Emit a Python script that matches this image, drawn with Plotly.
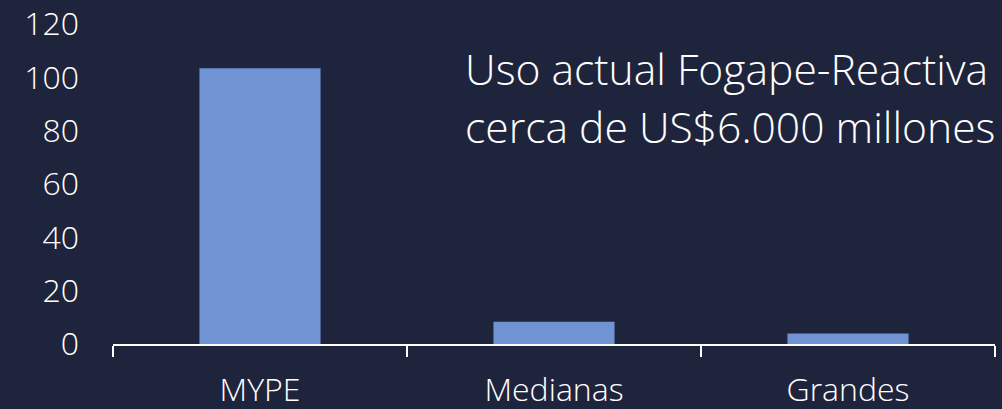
import plotly.graph_objects as go

categories = ["MYPE", "Medianas", "Grandes"]
values = [103.4, 8.3, 3.9]
y_ticks = [0, 20, 40, 60, 80, 100, 120]
note_lines = ["Uso actual Fogape-Reactiva", "cerca de US$6.000 millones"]

BG = "#1f243d"
BAR = "#6f93d3"
FONT = "Open Sans"

fig = go.Figure()
fig.add_trace(go.Bar(x=categories, y=values, marker=dict(color=BAR, line=dict(width=0)), width=0.412))

fig.update_layout(
    width=1002, height=409,
    margin=dict(l=113, r=7, t=24, b=65, autoexpand=False),
    paper_bgcolor=BG, plot_bgcolor=BG,
    showlegend=False,
    font=dict(family=FONT, color="#ffffff", size=32, weight=300),
)
fig.update_xaxes(
    type="category", range=[-0.5, 2.5], automargin=False,
    showline=True, linecolor="#ffffff", linewidth=2,
    ticks="outside", tickson="boundaries", ticklen=11, tickwidth=2, tickcolor="#ffffff",
    showgrid=False, zeroline=False,
    tickfont=dict(family=FONT, size=32, color="#ffffff", weight=300),
    ticklabelstandoff=17,
)
fig.update_yaxes(
    range=[0, 120], tickvals=y_ticks, ticktext=[str(v) for v in y_ticks], automargin=False,
    showgrid=False, zeroline=False, showline=False, ticks="",
    tickfont=dict(family=FONT, size=32, color="#ffffff", weight=300),
    ticklabelstandoff=33,
)
for line, ypos in zip(note_lines, [0.959, 0.778]):
    fig.add_annotation(
        text=line, xref="paper", yref="paper",
        x=0.397, y=ypos, xanchor="left", yanchor="top", align="left",
        showarrow=False,
        font=dict(family=FONT, size=42.6, color="#ffffff", weight=300),
    )

fig.write_html(
    "out.html",
    config={"displayModeBar": False},
    post_script="document.body.style.margin='0';document.body.style.background='%s';" % BG,
)
